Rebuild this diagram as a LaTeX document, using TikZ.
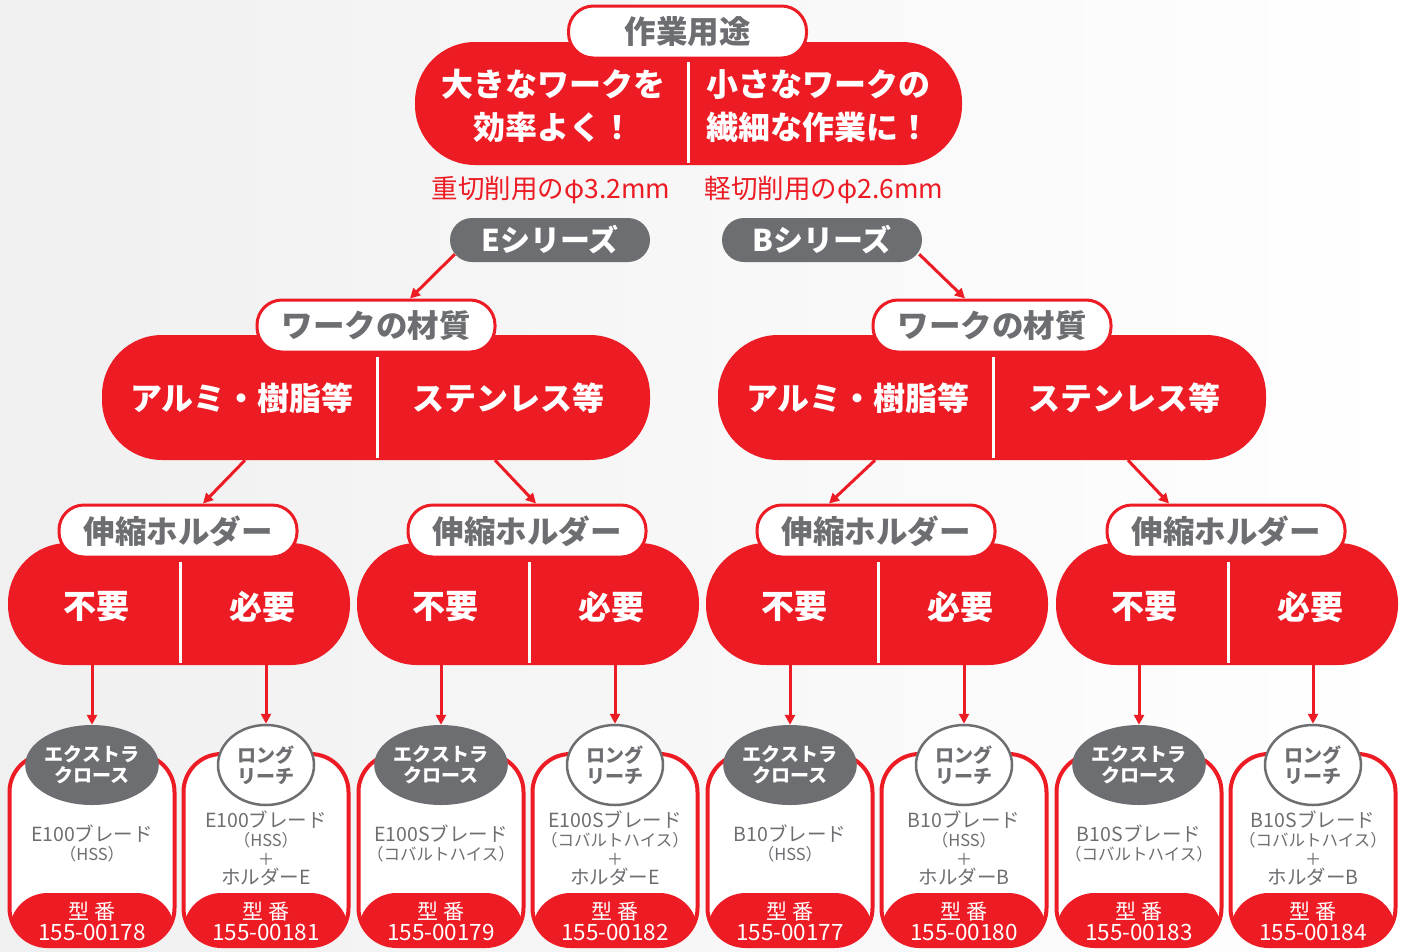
\documentclass[tikz,border=0pt]{standalone}
\usepackage{fontspec}
\setmainfont{Noto Sans CJK JP}
\usetikzlibrary{calc,arrows.meta,shapes.geometric}
\definecolor{jred}{HTML}{ED1C24}
\definecolor{jgray}{HTML}{6D6E71}
\tikzset{
	pill/.style={fill=jred, rounded corners=60pt, inner sep=0pt},
	tab/.style={fill=white, draw=jred, line width=3pt, rounded corners=25pt, minimum width=238pt, minimum height=52pt, inner sep=0pt, text=jgray, font=\bfseries\fontsize{31.5}{31.5}\selectfont},
	series/.style={fill=jgray, rounded corners=22pt, minimum width=200pt, minimum height=44pt, inner sep=0pt, text=white, font=\bfseries\fontsize{30}{30}\selectfont},
	whitetext/.style={text=white, align=center, font=\bfseries\fontsize{32}{43}\selectfont},
	redtext/.style={text=jred, font=\fontsize{26.5}{26.5}\selectfont},
	divider/.style={white, line width=3pt},
	arr/.style={jred, line width=3pt, -{Triangle[length=10pt,width=10pt]}},
	card/.style={draw=jred, fill=white, line width=4pt, rounded corners=38pt, minimum width=165pt, minimum height=192pt,
		path picture={\fill[jred] ($(path picture bounding box.south west)+(0,-53)$) rectangle (path picture bounding box.south east);}},
	darkbadge/.style={ellipse, fill=jgray, minimum width=96pt, minimum height=80pt, inner sep=0pt, text=white, align=center, font=\bfseries\fontsize{19}{21}\selectfont},
	lightbadge/.style={darkbadge, fill=white, draw=jgray, line width=2.5pt, text=jgray},
	cardtext/.style={text=jgray, align=center, font=\fontsize{19.5}{19}\selectfont},
	numtext/.style={text=white, align=center, font=\fontsize{22.5}{21}\selectfont}
}
\def\small#1{{\fontsize{16.5}{17}\selectfont #1}}
\def\holder(#1)(#2){
	\node[pill, minimum width=342pt, minimum height=122pt] (#1) at (#2,604) {};
	\draw[divider] (#2+1,562) -- (#2+1,663);
	\node[whitetext, font=\bfseries\fontsize{33}{33}\selectfont] (#1no) at (#2-83,607) {不要};
	\node[whitetext, font=\bfseries\fontsize{33}{33}\selectfont] (#1need) at (#2+83,607) {必要};
	\node[tab] (#1tab) at (#2-1,531) {伸縮ホルダー};
}
\def\leafcard(#1)(#2)#3#4#5#6{
	\node[card] (#1) at (#2,850) {};
	\node[#3] (#1badge) at (#2,765) {#4};
	\node[cardtext] (#1body) at (#2,#5) {#6};
}
\def\partno(#1)(#2)#3{\node[numtext] (#1num) at (#2,921) {{\fontsize{21}{21}\selectfont 型 番}\\#3};}

\begin{document}
\begin{tikzpicture}[x=1pt, y=-1pt]
			%%%%% START %%%%%
			
			\fill[left color=gray!12, right color=white] (0,0) rectangle (1405,951);
			\useasboundingbox (0,0) rectangle (1405,951);
			
			\node[pill, minimum width=547pt, minimum height=123pt] (use) at (688.5,103.5) {};
			\draw[divider] (688,62) -- (688,163);
			\node[tab] (usetab) at (687.5,32) {作業用途};
			\node[whitetext] (bigwork) at (553,106) {大きなワークを\\効率よく！};
			\node[whitetext] (smallwork) at (818,106) {小さなワークの\\繊細な作業に！};
			
			\node[redtext] (heavycut) at (551,190) {重切削用のφ3.2mm};
			\node[redtext] (lightcut) at (824,190) {軽切削用のφ2.6mm};
			\node[series] (eser) at (550,240) {Eシリーズ};
			\node[series] (bser) at (822,240) {Bシリーズ};
			
			\node[pill, minimum width=548pt, minimum height=125pt] (mat1) at (376,397.5) {};
			\draw[divider] (377,357) -- (377,458);
			\node[tab] (mat1tab) at (376,326) {ワークの材質};
			\node[whitetext] (alu1) at (242,398) {アルミ・樹脂等};
			\node[whitetext] (sus1) at (508,398) {ステンレス等};
			
			\node[pill, minimum width=548pt, minimum height=125pt] (mat2) at (992,397.5) {};
			\draw[divider] (993,357) -- (993,458);
			\node[tab] (mat2tab) at (992,326) {ワークの材質};
			\node[whitetext] (alu2) at (858,398) {アルミ・樹脂等};
			\node[whitetext] (sus2) at (1124,398) {ステンレス等};
			
			\draw[arr] ($(eser.south west)+(5,-8)$) -- ($(mat1tab.north)+(34,0)$);
			\draw[arr] ($(bser.south east)+(-3,-8)$) -- ($(mat2tab.north)+(-27,0)$);
			
			\holder(hold1)(179)
			\holder(hold2)(528)
			\holder(hold3)(877)
			\holder(hold4)(1227)
			
			\draw[arr] ($(mat1.south)+(-131,0)$) -- ($(hold1tab.north)+(25,0)$);
			\draw[arr] ($(mat1.south)+(119,0)$) -- ($(hold2tab.north)+(9,0)$);
			\draw[arr] ($(mat2.south)+(-117,0)$) -- ($(hold3tab.north)+(-47,0)$);
			\draw[arr] ($(mat2.south)+(136,0)$) -- ($(hold4tab.north)+(-57,0)$);
			
			\leafcard(c1)(92){darkbadge}{エクストラ\\クロース}{843}{E100ブレード\\\small{（HSS）}}
			\leafcard(c2)(266){lightbadge}{ロング\\リーチ}{848}{E100ブレード\\\small{（HSS）}\\\small{＋}\\ホルダーE}
			\leafcard(c3)(441){darkbadge}{エクストラ\\クロース}{843}{E100Sブレード\\\small{（コバルトハイス）}}
			\leafcard(c4)(615){lightbadge}{ロング\\リーチ}{848}{E100Sブレード\\\small{（コバルトハイス）}\\\small{＋}\\ホルダーE}
			\leafcard(c5)(790){darkbadge}{エクストラ\\クロース}{843}{B10ブレード\\\small{（HSS）}}
			\leafcard(c6)(964){lightbadge}{ロング\\リーチ}{848}{B10ブレード\\\small{（HSS）}\\\small{＋}\\ホルダーB}
			\leafcard(c7)(1139){darkbadge}{エクストラ\\クロース}{843}{B10Sブレード\\\small{（コバルトハイス）}}
			\leafcard(c8)(1313){lightbadge}{ロング\\リーチ}{848}{B10Sブレード\\\small{（コバルトハイス）}\\\small{＋}\\ホルダーB}
			
			\partno(c1)(92){155-00178}
			\partno(c2)(266){155-00181}
			\partno(c3)(441){155-00179}
			\partno(c4)(615){155-00182}
			\partno(c5)(790){155-00177}
			\partno(c6)(964){155-00180}
			\partno(c7)(1139){155-00183}
			\partno(c8)(1313){155-00184}
			
			\draw[arr] (hold1.south -| c1badge) -- (c1badge.north);
			\draw[arr] (hold1.south -| c2badge) -- (c2badge.north);
			\draw[arr] (hold2.south -| c3badge) -- (c3badge.north);
			\draw[arr] (hold2.south -| c4badge) -- (c4badge.north);
			\draw[arr] (hold3.south -| c5badge) -- (c5badge.north);
			\draw[arr] (hold3.south -| c6badge) -- (c6badge.north);
			\draw[arr] (hold4.south -| c7badge) -- (c7badge.north);
			\draw[arr] (hold4.south -| c8badge) -- (c8badge.north);
			
			%%%%% END %%%%%
		\end{tikzpicture}
\end{document}
